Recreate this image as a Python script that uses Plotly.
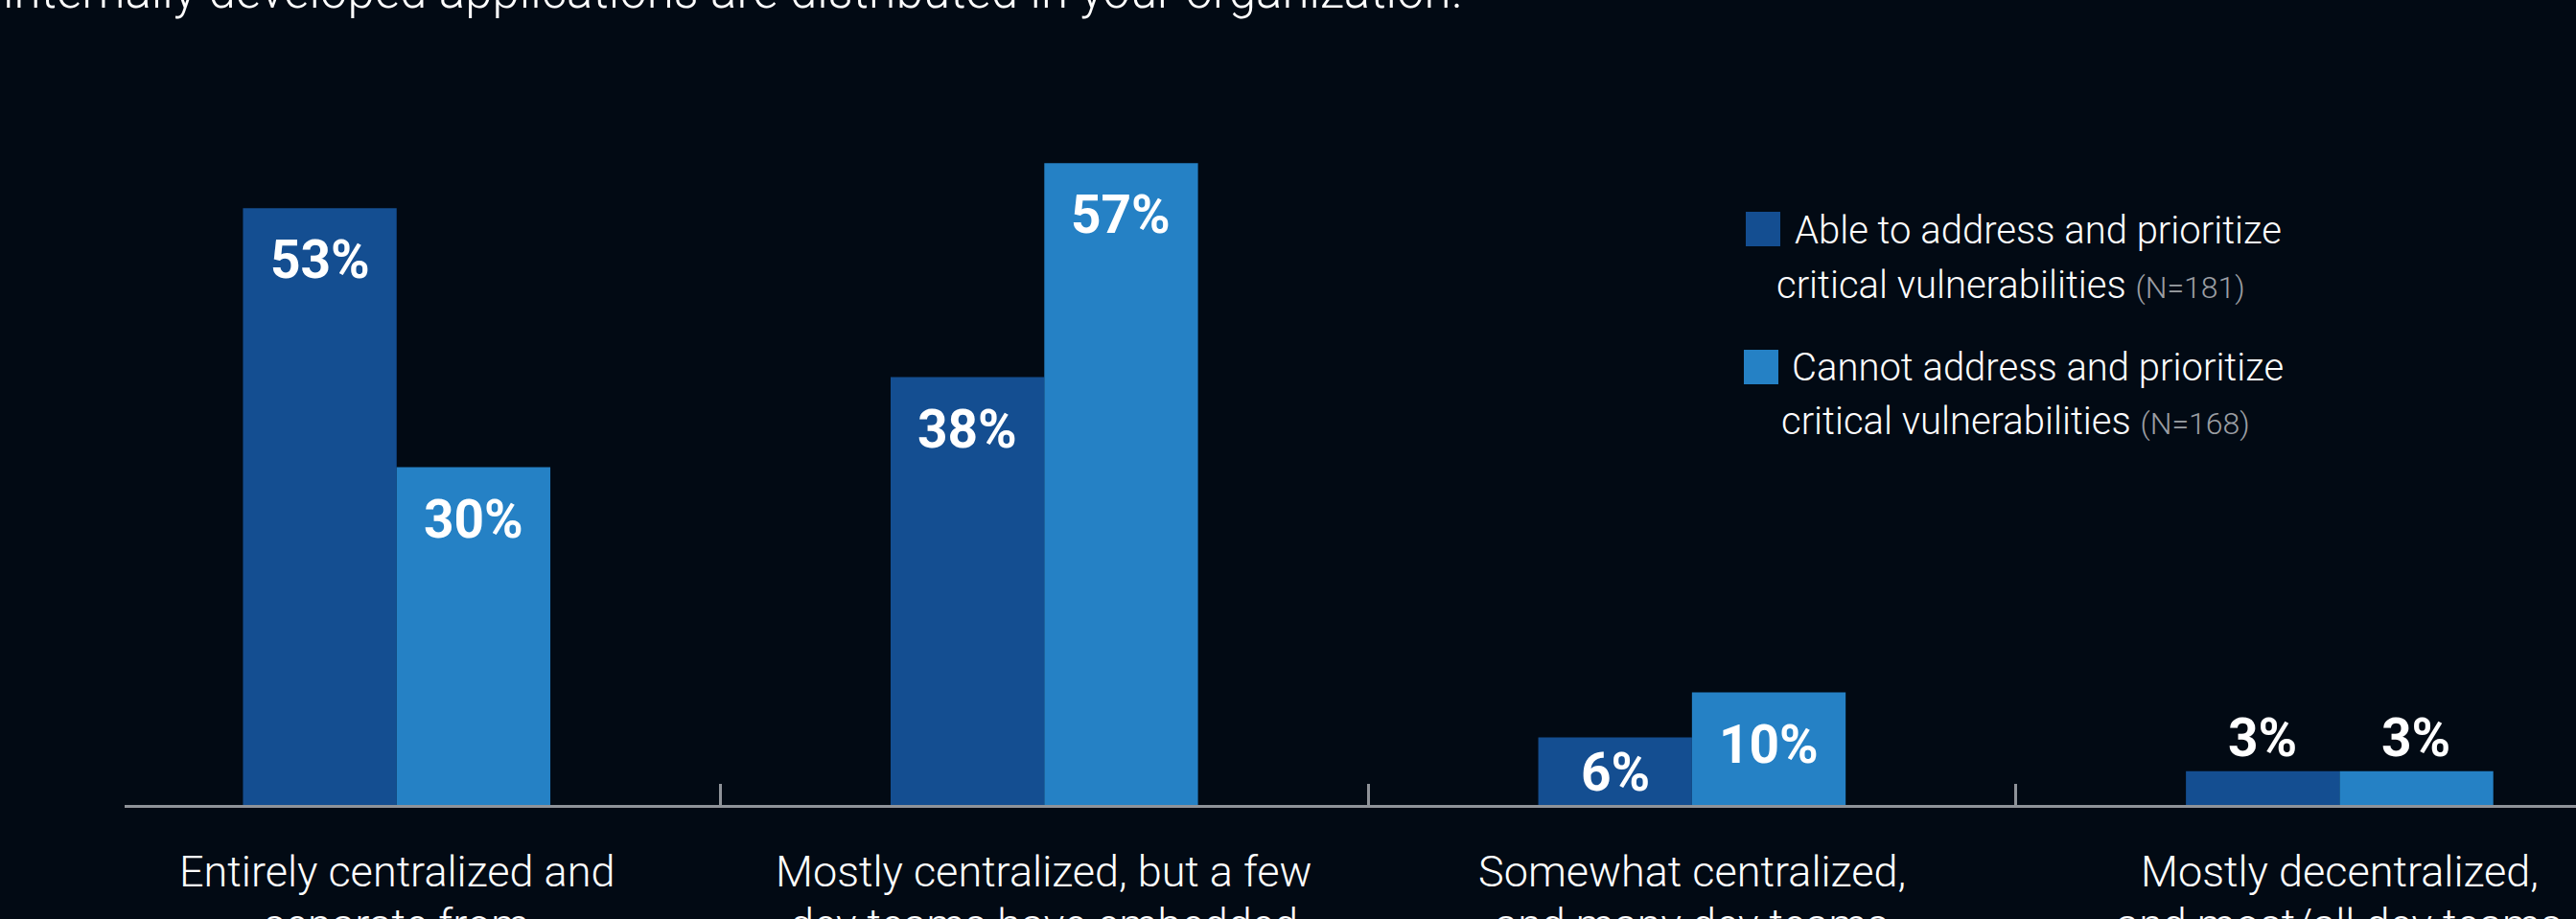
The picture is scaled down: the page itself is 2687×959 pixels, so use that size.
import plotly.graph_objects as go

# ---------------- data ----------------
categories = ["cat1", "cat2", "cat3", "cat4"]
category_line1 = ["Entirely centralized and", "Mostly centralized, but a few",
                  "Somewhat centralized,", "Mostly decentralized,"]
category_line2 = ["separate from", "dev teams have embedded",
                  "and many dev teams", "and most/all dev teams"]
able_values = [53, 38, 6, 3]
cannot_values = [30, 57, 10, 3]
series_names = ["Able to address and prioritize critical vulnerabilities (N=181)",
                "Cannot address and prioritize critical vulnerabilities (N=168)"]
legend_line1 = ["Able to address and prioritize", "Cannot address and prioritize"]
legend_line2 = ["critical vulnerabilities", "critical vulnerabilities"]
legend_n = ["(N=181)", "(N=168)"]
title_text = "internally developed applications are distributed in your organization."

# ---------------- style ----------------
W, H = 2687, 959
ML, MR, MT, MB = 130, 0, 135, 119
PW, PH = W - ML - MR, H - MT - MB
YMAX = 60
BG = "#020a14"
DARK = "#144e91"
LIGHT = "#2581c5"
AXIS = "#8f9399"
GRAY_TXT = "#9b9ea3"
FONT = "Roboto"


def px_x(X):
    return (X - ML) / PW


def px_y(Y):
    return (H - MB - Y) / PH


fig = go.Figure()
fig.add_trace(go.Bar(x=categories, y=able_values, name=series_names[0],
                     marker=dict(color=DARK, line=dict(width=0)), showlegend=False))
fig.add_trace(go.Bar(x=categories, y=cannot_values, name=series_names[1],
                     marker=dict(color=LIGHT, line=dict(width=0)), showlegend=False))

annotations = []
shapes = []

# bar value labels
px_per_unit = PH / YMAX
for offset, vals in ((-0.5, able_values), (0.5, cannot_values)):
    for i, v in enumerate(vals):
        h = v * px_per_unit
        if h >= 110:
            y, ys = v, -54
        elif h >= 50:
            y, ys = v / 2, -1
        else:
            y, ys = v, 35
        annotations.append(dict(
            x=i, y=y, xref="x", yref="y", xshift=offset * 160,
            yshift=ys, text=f"{v}%", showarrow=False,
            xanchor="center", yanchor="middle",
            font=dict(family=FONT, size=55, color="white", weight=700)))

# category labels
for i in range(len(categories)):
    annotations.append(dict(x=i, y=0, xref="x", yref="paper", yshift=-69,
                            text=category_line1[i], showarrow=False,
                            xanchor="center", yanchor="middle",
                            font=dict(family=FONT, size=45, color="white", weight=300)))
    annotations.append(dict(x=i, y=0, xref="x", yref="paper", yshift=-124,
                            text=category_line2[i], showarrow=False,
                            xanchor="center", yanchor="middle",
                            font=dict(family=FONT, size=45, color="white", weight=300)))

# title (partially cut at top)
annotations.append(dict(x=px_x(1), y=px_y(-9), xref="paper", yref="paper",
                        text=title_text, showarrow=False, xanchor="left", yanchor="middle",
                        font=dict(family=FONT, size=51, color="white", weight=300)))

# custom legend
leg_sq = [(1821, 221), (1819, 365)]
leg_l1_x = [1870, 1867]
leg_l1_y = [240, 383]
leg_l2 = [(2097, 297), (2102, 440)]
for k, col in enumerate((DARK, LIGHT)):
    sx, sy = leg_sq[k]
    shapes.append(dict(type="rect", xref="paper", yref="paper",
                       x0=px_x(sx), x1=px_x(sx + 36), y0=px_y(sy + 36), y1=px_y(sy),
                       fillcolor=col, line=dict(width=0)))
    annotations.append(dict(x=px_x(leg_l1_x[k]), y=px_y(leg_l1_y[k]), xref="paper", yref="paper",
                            text=legend_line1[k], showarrow=False,
                            xanchor="left", yanchor="middle",
                            font=dict(family=FONT, size=40, color="white", weight=300)))
    annotations.append(dict(x=px_x(leg_l2[k][0]), y=px_y(leg_l2[k][1]), xref="paper", yref="paper",
                            text=f"{legend_line2[k]} <span style='font-size:32px;color:{GRAY_TXT}'>{legend_n[k]}</span>",
                            showarrow=False, xanchor="center", yanchor="middle",
                            font=dict(family=FONT, size=40, color="white", weight=300)))

fig.update_layout(
    width=W, height=H,
    margin=dict(l=ML, r=MR, t=MT, b=MB, pad=0),
    paper_bgcolor=BG, plot_bgcolor=BG,
    barmode="group", bargap=0.5254, bargroupgap=0,
    annotations=annotations, shapes=shapes,
    showlegend=False,
    font=dict(family=FONT, color="white"),
)
fig.update_xaxes(type="category", range=[-0.42, 3.365], showgrid=False, zeroline=False,
                 showline=True, linecolor=AXIS, linewidth=3,
                 ticks="inside", tickson="boundaries", ticklen=22, tickwidth=3,
                 tickcolor=AXIS, showticklabels=False, fixedrange=True)
fig.update_yaxes(range=[0, YMAX], visible=False, showgrid=False, zeroline=False,
                 fixedrange=True)

fig.write_html(
    "out.html",
    config={"displayModeBar": False},
    post_script="document.body.style.margin='0';document.body.style.padding='0';"
                "document.documentElement.style.background='" + BG + "';"
                "document.body.style.background='" + BG + "';",
)
